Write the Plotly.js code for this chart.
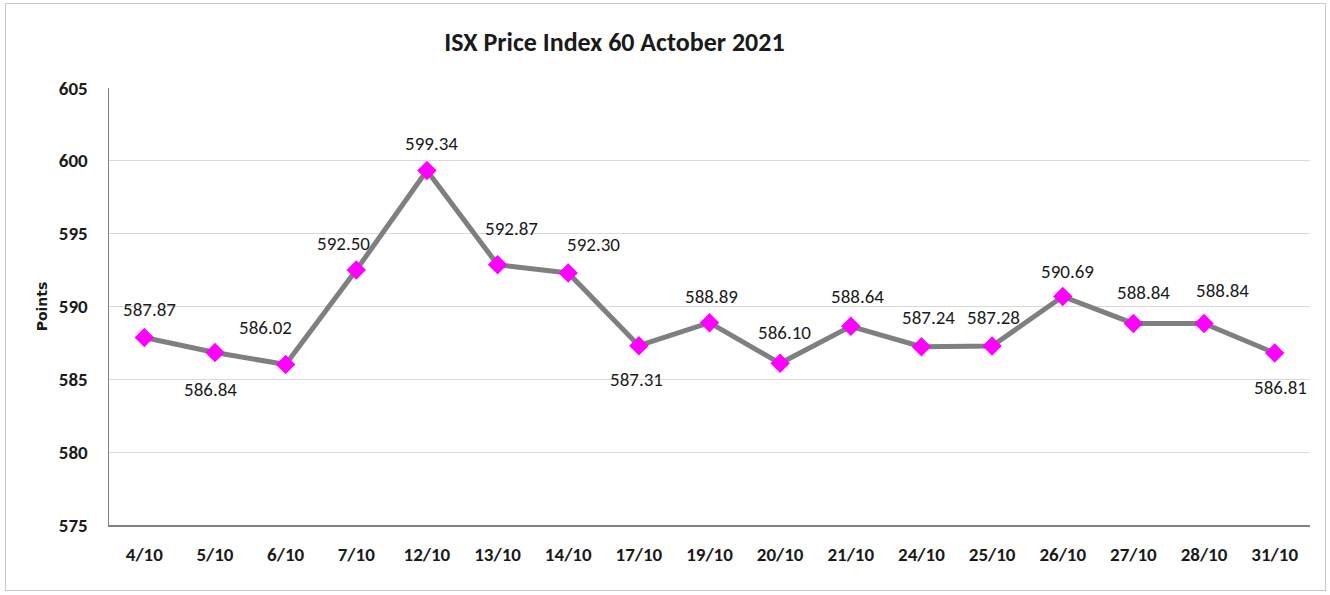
<!DOCTYPE html>
<html>
<head>
<meta charset="utf-8">
<script src="https://cdn.plot.ly/plotly-3.0.1.min.js"></script>
<style>
  html, body { margin: 0; padding: 0; background: #ffffff; }
  #wrap { position: relative; width: 1330px; height: 595px; }
  #frame { position: absolute; left: 5px; top: 3px; width: 1321px; height: 588px; border: 1px solid #c8c8c8; box-sizing: border-box; pointer-events: none; z-index: 5; }
  #chart { width: 1330px; height: 595px; }
</style>
</head>
<body>
<div id="wrap">
  <div id="chart"></div>
  <div id="frame"></div>
</div>
<script>
const titleText = "ISX Price Index 60 Actober 2021";
const yAxisTitle = "Points";
const dates = ["4/10","5/10","6/10","7/10","12/10","13/10","14/10","17/10","19/10","20/10","21/10","24/10","25/10","26/10","27/10","28/10","31/10"];
const values = [587.87,586.84,586.02,592.50,599.34,592.87,592.30,587.31,588.89,586.10,588.64,587.24,587.28,590.69,588.84,588.84,586.81];
const labels = ["587.87","586.84","586.02","592.50","599.34","592.87","592.30","587.31","588.89","586.10","588.64","587.24","587.28","590.69","588.84","588.84","586.81"];
const yTicks = [575,580,585,590,595,600,605];

// label offsets in pixels (style)
const labelDx = [5,-4,-20,-13,5,14,25,-2,2,4,7,7,1,5,10,18,6];
const labelDy = [28,-37,37,27,27,36,29,-34,26,31,30,29,29,25,31,33,-35];

const fontMain = "Carlito, 'Liberation Sans Narrow', 'DejaVu Sans Condensed', 'Open Sans', sans-serif";

const trace = {
  x: dates,
  y: values,
  type: "scatter",
  mode: "lines+markers",
  line: { color: "#7f7f7f", width: 5 },
  marker: { symbol: "diamond", color: "#ff00ff", size: 15, line: { width: 0 } },
  hoverinfo: "x+y"
};

const annotations = dates.map((d, i) => ({
  x: d, y: values[i], xref: "x", yref: "y",
  text: labels[i], showarrow: false,
  xshift: labelDx[i], yshift: labelDy[i],
  font: { family: fontMain, size: 19, color: "#1a1a1a" }
}));

const layout = {
  width: 1330, height: 595,
  margin: { l: 109, r: 20, t: 88, b: 70 },
  paper_bgcolor: "#ffffff",
  plot_bgcolor: "#ffffff",
  showlegend: false,
  title: {
    text: "<b>" + titleText + "</b>",
    x: 0.462, xref: "container", xanchor: "center",
    y: 0.93, yref: "container", yanchor: "middle",
    font: { family: fontMain, size: 26, color: "#1a1a1a" }
  },
  xaxis: {
    type: "category",
    categoryorder: "array",
    categoryarray: dates,
    range: [-0.5, dates.length - 0.5],
    showgrid: false,
    showline: true, linecolor: "#808080", linewidth: 1.5,
    ticks: "outside", ticklen: 12, tickcolor: "rgba(0,0,0,0)",
    tickfont: { family: fontMain, size: 19, color: "#1a1a1a", weight: "bold" },
    zeroline: false,
    fixedrange: true
  },
  yaxis: {
    range: [575, 605],
    tickvals: yTicks,
    ticktext: yTicks.map(String),
    showgrid: true, gridcolor: "#d9d9d9", gridwidth: 1,
    showline: true, linecolor: "#808080", linewidth: 1.5,
    ticks: "outside", ticklen: 16, tickcolor: "rgba(0,0,0,0)",
    tickfont: { family: fontMain, size: 19, color: "#1a1a1a", weight: "bold" },
    zeroline: false,
    title: { text: "<b>" + yAxisTitle + "</b>", standoff: 8, font: { family: "'DejaVu Sans', sans-serif", size: 14, color: "#1a1a1a" } },
    fixedrange: true
  },
  annotations: annotations
};

Plotly.newPlot("chart", [trace], layout, { displayModeBar: false, staticPlot: true });
</script>
</body>
</html>
